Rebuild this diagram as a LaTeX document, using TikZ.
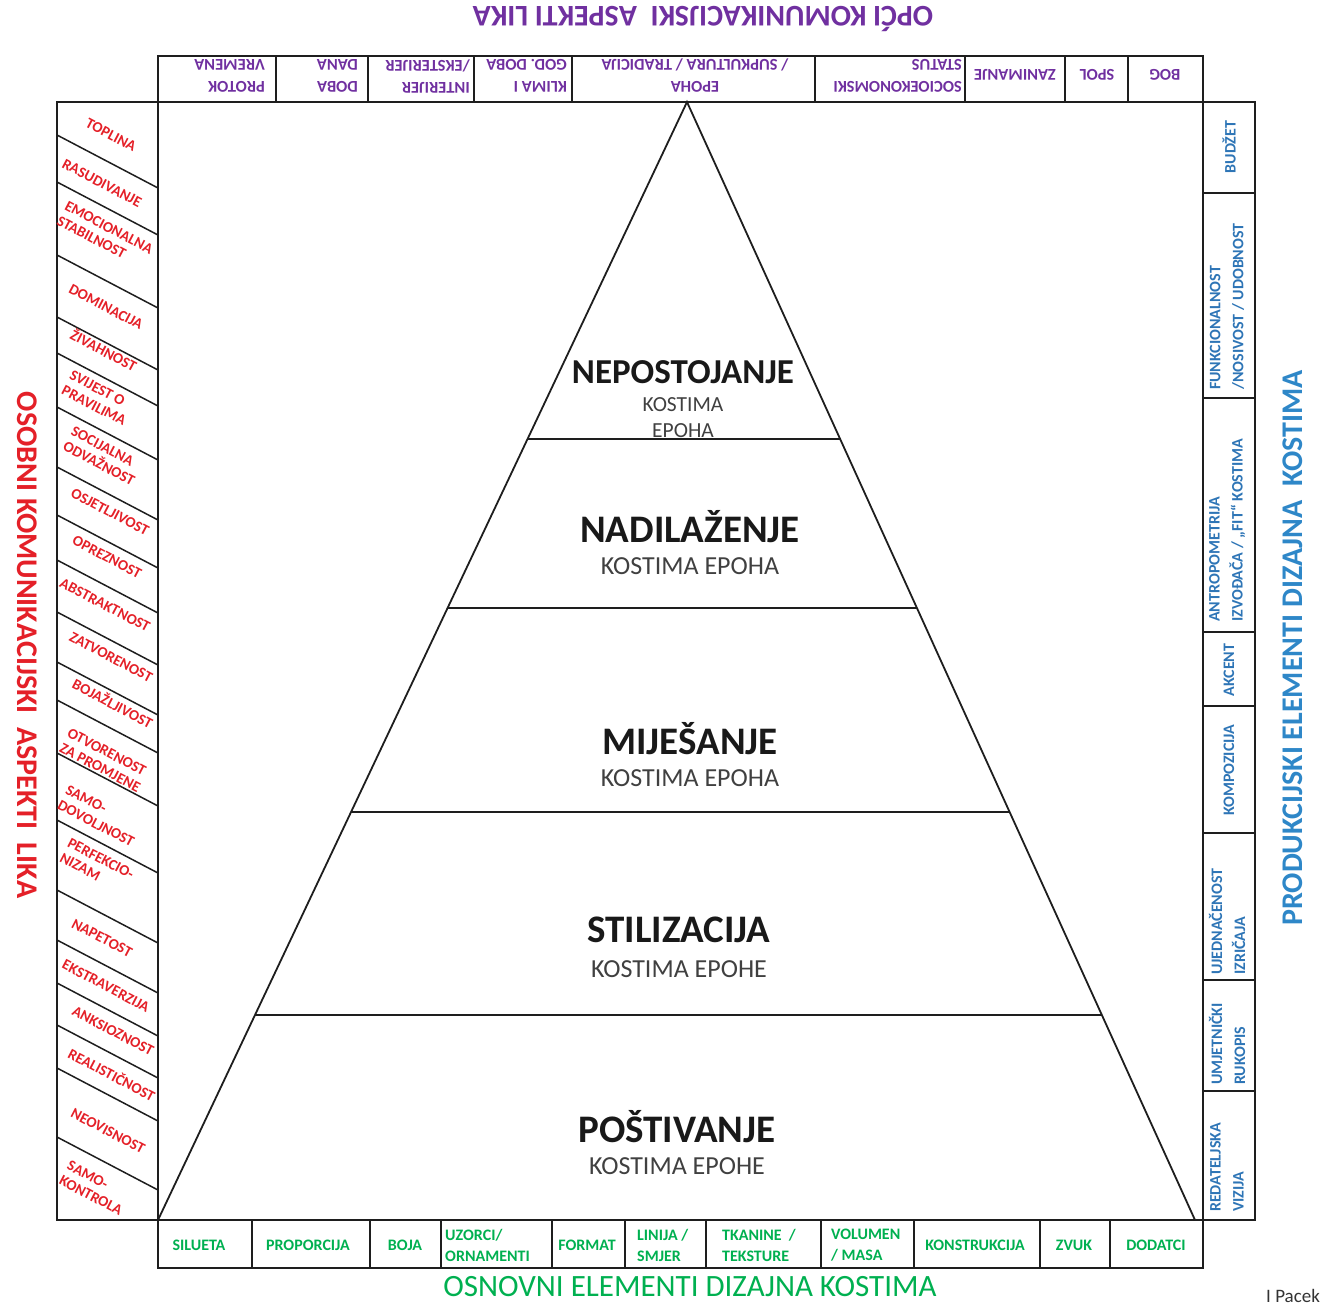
\documentclass[tikz,border=0pt]{standalone}
\usepackage{fontspec}
\setmainfont{Carlito}
\usetikzlibrary{calc}
\definecolor{cpurple}{RGB}{112,48,160}
\definecolor{cred}{RGB}{228,32,40}
\definecolor{cgreen}{RGB}{0,176,80}
\definecolor{cblue}{RGB}{46,117,182}
\definecolor{ctblue}{RGB}{46,135,200}
\definecolor{csub}{RGB}{64,64,64}
\definecolor{cline}{RGB}{30,30,30}
\begin{document}
\begin{tikzpicture}[x=1pt,y=-1pt,
  frame/.style={draw=cline, line width=1.8pt},
  thin/.style={draw=cline, line width=1.5pt},
  pur/.style={text=cpurple, font=\bfseries\fontsize{16.5}{22}\selectfont, align=left, inner sep=0pt, rotate=180},
  red/.style={text=cred, font=\bfseries\fontsize{15}{17}\selectfont, align=left, inner sep=0pt, rotate=-27.7},
  grn/.style={text=cgreen, font=\bfseries\fontsize{16}{21}\selectfont, align=left, inner sep=0pt},
  blu/.style={text=cblue, font=\bfseries\fontsize{16}{23}\selectfont, align=left, inner sep=0pt, rotate=90},
  lvl/.style={font=\bfseries\fontsize{39}{42}\selectfont, text=black!90, inner sep=0pt},
  sub/.style={font=\fontsize{26}{30}\selectfont, text=csub, inner sep=0pt, align=center},
  ttl/.style={font=\bfseries\fontsize{30}{34}\selectfont, inner sep=0pt}]
\useasboundingbox (0,0) rectangle (1327,1304);
% frames
\draw[frame] (158,56) rectangle (1203,1268);
\draw[frame] (57,102) rectangle (158,1220);
\draw[frame] (1203,102) rectangle (1255,1220);
\draw[frame] (158,102) -- (1203,102);
\draw[frame] (158,1220) -- (1203,1220);
% top bar dividers
\foreach \x in {276,368,474,572,815,965,1065,1128} \draw[frame] (\x,56) -- (\x,102);
% bottom bar dividers
\foreach \x in {252,370,441,552,625,706,821,914,1040,1110} \draw[frame] (\x,1220) -- (\x,1268);
% right column dividers
\foreach \y in {193,398,632,706,833,980,1091} \draw[frame] (1203,\y) -- (1255,\y);
% left column diagonals
\foreach \y in {135,182,255,317,353,407,467,515,560,612,662,700,753,820,890,940,983,1025,1068,1137}
  \draw[thin] (57,\y) -- (158,{\y+53});
% pyramid
\coordinate (apex) at (687,102);
\coordinate (bl) at (158,1220);
\coordinate (br) at (1195,1220);
\draw[frame] (bl) -- (apex) -- (br);
\coordinate (l1) at ($(apex)!0.30143!(bl)$); \coordinate (r1) at ($(apex)!0.30143!(br)$);
\coordinate (l2) at ($(apex)!0.45259!(bl)$); \coordinate (r2) at ($(apex)!0.45259!(br)$);
\coordinate (l3) at ($(apex)!0.63506!(bl)$); \coordinate (r3) at ($(apex)!0.63506!(br)$);
\coordinate (l4) at ($(apex)!0.81664!(bl)$); \coordinate (r4) at ($(apex)!0.81664!(br)$);
\draw[frame] (l1) -- (r1);
\draw[frame] (l2) -- (r2);
\draw[frame] (l3) -- (r3);
\draw[frame] (l4) -- (r4);
% pyramid texts
\node[lvl, font=\bfseries\fontsize{35}{38}\selectfont] (n1) at (683,372) {NEPOSTOJANJE};
\node[sub, font=\fontsize{21.5}{26}\selectfont] (s1) at (683,418) {KOSTIMA\\EPOHA};
\node[lvl] (n2) at (690,527) {NADILAŽENJE};
\node[sub] (s2) at (690,566) {KOSTIMA EPOHA};
\node[lvl] (n3) at (690,739) {MIJEŠANJE};
\node[sub] (s3) at (690,778) {KOSTIMA EPOHA};
\node[lvl] (n4) at (679,930) {STILIZACIJA};
\node[sub] (s4) at (679,969) {KOSTIMA EPOHE};
\node[lvl] (n5) at (677,1127) {POŠTIVANJE};
\node[sub] (s5) at (677,1166) {KOSTIMA EPOHE};
% titles
\node[ttl, text=cpurple, rotate=180] (tt) at (703,19) {OPĆI KOMUNIKACIJSKI\ \ ASPEKTI LIKA};
\node[ttl, text=cred, rotate=-90] (tl) at (27,645) {OSOBNI KOMUNIKACIJSKI\ \ ASPEKTI\ \ LIKA};
\node[ttl, text=ctblue, rotate=90] (tr) at (1293,648) {PRODUKCIJSKI ELEMENTI DIZAJNA\ \ KOSTIMA};
\node[ttl, text=cgreen, font=\fontsize{31}{34}\selectfont] (tb) at (690,1287) {OSNOVNI ELEMENTI DIZAJNA KOSTIMA};
\node[font=\fontsize{19}{21}\selectfont, text=black!80, anchor=west, inner sep=0pt] (auth) at (1266,1296) {I Pacek};
% top bar texts
\node[pur, anchor=west] (t1) at (265,76) {PROTOK\\VREMENA};
\node[pur, anchor=west] (t2) at (358,76) {DOBA\\DANA};
\node[pur, anchor=west] (t3) at (470,76) {INTERIJER\\/EKSTERIJER};
\node[pur, anchor=west] (t4) at (567,76) {KLIMA I\\GOD. DOBA};
\node[pur, align=center] (t5) at (695,76) {EPOHA\\/ SUPKULTURA / TRADICIJA};
\node[pur, anchor=west] (t6) at (962,76) {SOCIOEKONOMSKI\\STATUS};
\node[pur] (t7) at (1015,75) {ZANIMANJE};
\node[pur] (t8) at (1097,75) {SPOL};
\node[pur] (t9) at (1165,75) {BOG};
% bottom bar texts
\node[grn] (b1) at (199,1245) {SILUETA};
\node[grn] (b2) at (308,1245) {PROPORCIJA};
\node[grn] (b3) at (405,1245) {BOJA};
\node[grn, anchor=west] (b4) at (445,1245) {UZORCI/\\ORNAMENTI};
\node[grn] (b5) at (587,1245) {FORMAT};
\node[grn, anchor=west] (b6) at (637,1245) {LINIJA /\\SMJER};
\node[grn, anchor=west] (b7) at (722,1245) {TKANINE\ \ /\\TEKSTURE};
\node[grn, anchor=west] (b8) at (831,1245) {VOLUMEN\\/ MASA};
\node[grn] (b9) at (975,1245) {KONSTRUKCIJA};
\node[grn] (b10) at (1074,1245) {ZVUK};
\node[grn] (b11) at (1156,1245) {DODATCI};
% right column texts
\node[blu] (r1t) at (1229,147) {BUDŽET};
\node[blu, anchor=west] (r2t) at (1227,390) {FUNKCIONALNOST\\/NOSIVOST / UDOBNOST};
\node[blu, anchor=west] (r3t) at (1227,622) {ANTROPOMETRIJA\\IZVOĐAČA / „FIT“ KOSTIMA};
\node[blu] (r4t) at (1229,670) {AKCENT};
\node[blu] (r5t) at (1229,770) {KOMPOZICIJA};
\node[blu, anchor=west] (r6t) at (1227,975) {UJEDNAČENOST\\IZRIČAJA};
\node[blu, anchor=west] (r7t) at (1227,1085) {UMJETNIČKI\\RUKOPIS};
\node[blu, anchor=west] (r8t) at (1227,1212) {REDATELJSKA\\VIZIJA};
% left column texts
\node[red] (p1) at (111,135) {TOPLINA};
\node[red] (p2) at (102,183) {RASUDIVANJE};
\node[red] (p3) at (105,235) {EMOCIONALNA\\STABILNOST};
\node[red] (p4) at (106,307) {DOMINACIJA};
\node[red] (p5) at (104,350) {ŽIVAHNOST};
\node[red] (p6) at (98,398) {SVIJEST O\\PRAVILIMA};
\node[red] (p7) at (103,456) {SOCIJALNA\\ODVAŽNOST};
\node[red] (p8) at (110,512) {OSJETLJIVOST};
\node[red] (p9) at (107,557) {OPREZNOST};
\node[red] (p10) at (105,605) {ABSTRAKTNOST};
\node[red] (p11) at (111,657) {ZATVORENOST};
\node[red] (p12) at (113,703) {BOJAŽLJIVOST};
\node[red] (p13) at (104,760) {OTVORENOST\\ZA PROMJENE};
\node[red] (p14) at (100,816) {SAMO-\\DOVOLJNOST};
\node[red] (p15) at (97,866) {PERFEKCIO-\\NIZAM};
\node[red] (p16) at (102,938) {NAPETOST};
\node[red] (p17) at (106,986) {EKSTRAVERZIJA};
\node[red] (p18) at (113,1031) {ANKSIOZNOST};
\node[red] (p19) at (112,1074) {REALISTIČNOST};
\node[red] (p20) at (108,1131) {NEOVISNOST};
\node[red] (p21) at (95,1188) {SAMO-\\KONTROLA};
\end{tikzpicture}
\end{document}
